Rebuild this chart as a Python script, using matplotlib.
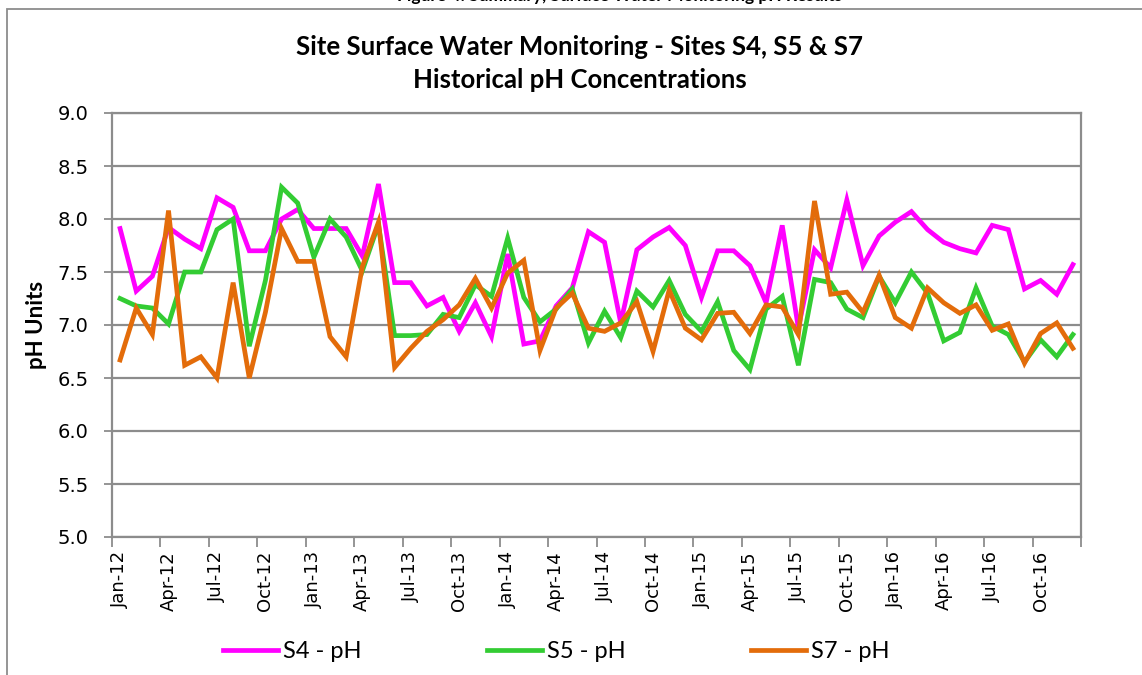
import matplotlib

matplotlib.use("Agg")
import matplotlib.pyplot as plt
import pandas as pd
from matplotlib.patches import Rectangle

# monthly samples Jan-12 .. Dec-16
months = pd.date_range("2012-01-01", periods=60, freq="MS").strftime("%b-%y").tolist()

s4_ph = [7.91, 7.32, 7.46, 7.92, 7.81, 7.72, 8.20, 8.11, 7.70, 7.70, 8.00, 8.09,
         7.91, 7.91, 7.91, 7.65, 8.33, 7.40, 7.40, 7.18, 7.26, 6.94, 7.21, 6.89,
         7.67, 6.82, 6.85, 7.18, 7.35, 7.88, 7.78, 7.02, 7.71, 7.83, 7.92, 7.75,
         7.26, 7.70, 7.70, 7.56, 7.21, 7.94, 6.97, 7.71, 7.54, 8.18, 7.56, 7.84,
         7.97, 8.07, 7.90, 7.78, 7.72, 7.68, 7.94, 7.90, 7.34, 7.42, 7.29, 7.57]

s5_ph = [7.25, 7.18, 7.16, 7.01, 7.50, 7.50, 7.90, 8.00, 6.80, 7.42, 8.30, 8.15,
         7.64, 8.00, 7.83, 7.51, 7.95, 6.90, 6.90, 6.91, 7.10, 7.07, 7.38, 7.27,
         7.82, 7.26, 7.03, 7.15, 7.34, 6.83, 7.13, 6.88, 7.32, 7.17, 7.42, 7.10,
         6.94, 7.22, 6.76, 6.58, 7.15, 7.27, 6.62, 7.43, 7.40, 7.15, 7.07, 7.46,
         7.21, 7.50, 7.30, 6.85, 6.93, 7.35, 6.99, 6.91, 6.65, 6.86, 6.70, 6.91]

s7_ph = [6.67, 7.16, 6.91, 8.08, 6.62, 6.70, 6.50, 7.40, 6.50, 7.12, 7.91, 7.60,
         7.60, 6.89, 6.70, 7.55, 7.97, 6.60, 6.78, 6.94, 7.05, 7.19, 7.44, 7.16,
         7.49, 7.61, 6.76, 7.16, 7.30, 6.97, 6.94, 7.02, 7.22, 6.75, 7.33, 6.97,
         6.86, 7.11, 7.12, 6.92, 7.19, 7.17, 6.91, 8.17, 7.29, 7.31, 7.12, 7.47,
         7.07, 6.97, 7.35, 7.21, 7.11, 7.19, 6.95, 7.01, 6.64, 6.92, 7.02, 6.78]

series = [
    ("S4 - pH", s4_ph, "#ff00ff"),
    ("S5 - pH", s5_ph, "#33cc33"),
    ("S7 - pH", s7_ph, "#e36c0a"),
]

W, H = 1142, 675
fig = plt.figure(figsize=(W / 100, H / 100), dpi=100)
GRID = "#8c8c8c"

# outer chart border (runs off the right/bottom of the image)
fig.patches.append(Rectangle((7 / W, -0.1), 1.2, 1 - 9 / H + 0.1, transform=fig.transFigure,
                             fill=False, edgecolor=GRID, linewidth=1.3))

# caption of the page above, only its lower edge shows
fig.text(620 / W, 1 - 1 / H, "Figure 4: Summary, Surface Water Monitoring pH Results",
         ha="center", va="baseline", fontsize=12.5, fontweight="bold", family="Lato")

ax = fig.add_axes([112 / W, 1 - 537 / H, (1081 - 112) / W, (537 - 113) / H])

x = list(range(len(months)))
for label, vals, color in series:
    ax.plot(x, vals, color=color, linewidth=3.4, label=label, solid_joinstyle="miter", zorder=3)

ax.set_xlim(-0.5, len(months) - 0.5)
ax.set_ylim(5.0, 9.0)
ax.set_yticks([5.0 + 0.5 * k for k in range(9)])
ax.set_yticklabels([f"{5.0 + 0.5 * k:.1f}" for k in range(9)], fontsize=14, family="DejaVu Sans")
ax.yaxis.grid(True, color=GRID, linewidth=1.6, zorder=1)
ax.tick_params(axis="y", length=6, width=1.3, color=GRID, pad=11)

ax.set_xticks(x[::3])
ax.set_xticklabels(months[::3], rotation=90, fontsize=13, family="DejaVu Sans")
ax.set_xticks([i - 0.5 for i in range(0, len(months) + 1, 3)], minor=True)
ax.tick_params(axis="x", which="major", length=0, pad=10)
ax.tick_params(axis="x", which="minor", length=7, width=1.3, color=GRID)

for side in ["left", "bottom", "right", "top"]:
    ax.spines[side].set_color(GRID)
    ax.spines[side].set_linewidth(1.6)

ax.set_ylabel("pH Units", fontsize=16, fontweight="bold", family="Lato", labelpad=7)

fig.text(580 / W, 1 - 47 / H, "Site Surface Water Monitoring - Sites S4, S5 & S7",
         ha="center", va="center", fontsize=18.5, fontweight="bold", family="Lato")
fig.text(580 / W, 1 - 80 / H, "Historical pH Concentrations",
         ha="center", va="center", fontsize=18.5, fontweight="bold", family="Lato")

fig.legend(loc="center", bbox_to_anchor=(556 / W, 1 - 652 / H), ncol=3, frameon=False,
           prop={"family": "Lato", "size": 17}, handlelength=2.35, handletextpad=0.2,
           columnspacing=5.3)

fig.savefig("out.png", dpi=100)
